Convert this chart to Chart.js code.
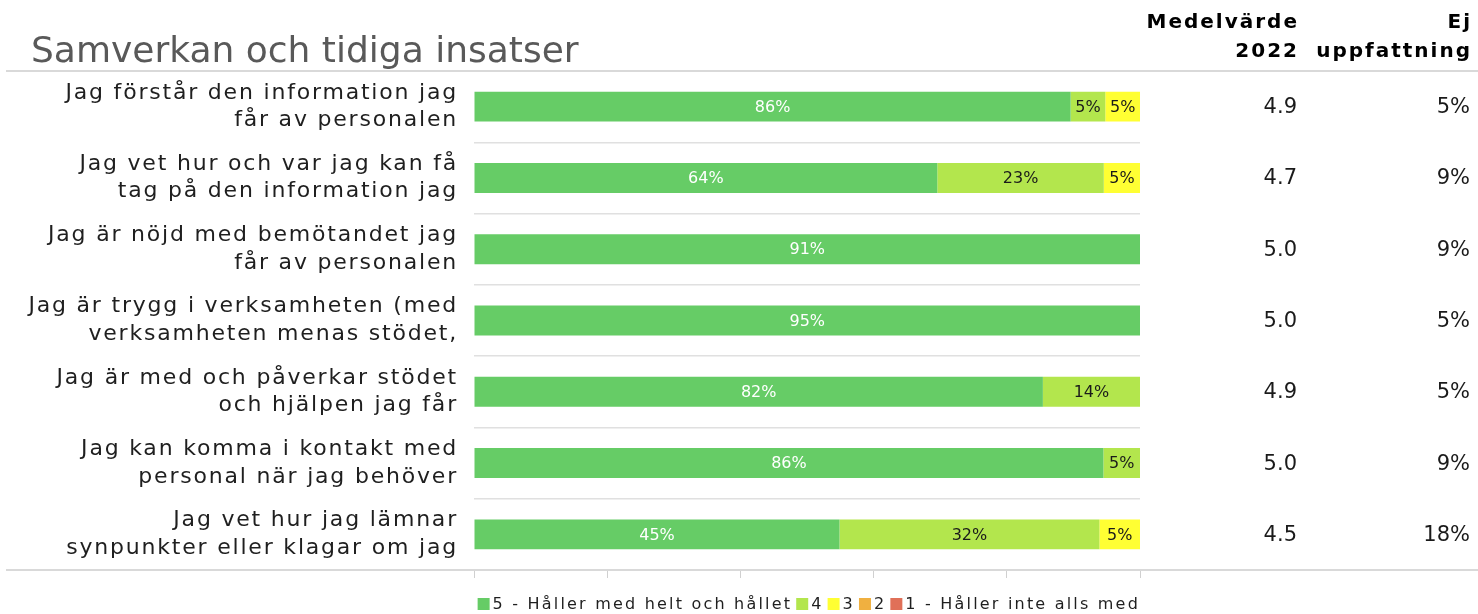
<!DOCTYPE html>
<html>
<head>
<meta charset="utf-8">
<script src="https://cdn.jsdelivr.net/npm/chart.js@4.4.1/dist/chart.umd.min.js"></script>
<style>
  html, body { margin: 0; padding: 0; background: #fff; }
  #wrap { width: 1478px; height: 614px; position: relative; }
</style>
</head>
<body>
<div id="wrap"><canvas id="chart"></canvas></div>
<script>
// Chart data
const title = "Samverkan och tidiga insatser";
const categories = [
  ["Jag förstår den information jag", "får av personalen"],
  ["Jag vet hur och var jag kan få", "tag på den information jag"],
  ["Jag är nöjd med bemötandet jag", "får av personalen"],
  ["Jag är trygg i verksamheten (med", "verksamheten menas stödet,"],
  ["Jag är med och påverkar stödet", "och hjälpen jag får"],
  ["Jag kan komma i kontakt med", "personal när jag behöver"],
  ["Jag vet hur jag lämnar", "synpunkter eller klagar om jag"],
];
const seriesNames = ["5 - Håller med helt och hållet", "4", "3", "2", "1 - Håller inte alls med"];
const s5 = [86, 64, 91, 95, 82, 86, 45];
const s4 = [5, 23, 0, 0, 14, 5, 32];
const s3 = [5, 5, 0, 0, 0, 0, 5];
const s2 = [0, 0, 0, 0, 0, 0, 0];
const s1 = [0, 0, 0, 0, 0, 0, 0];
const medelvarde = ["4.9", "4.7", "5.0", "5.0", "4.9", "5.0", "4.5"];
const ejUppfattning = [5, 9, 9, 5, 5, 9, 18];
const xTicks = [0, 20, 40, 60, 80, 100];

const colors = ["#66cc66", "#b3e64d", "#ffff33", "#f0b040", "#e07058"];
const FONT = "'DejaVu Sans', sans-serif";

// bars are drawn as share of those who answered (Ej uppfattning excluded)
const allSeries = [s5, s4, s3, s2, s1];
const answered = categories.map((_, i) => allSeries.reduce((a, s) => a + s[i], 0));

const datasets = allSeries.map((s, k) => ({
  label: seriesNames[k],
  data: s.map((v, i) => (v / answered[i]) * 100),
  raw: s,
  backgroundColor: colors[k],
  borderWidth: 0,
  barPercentage: 0.42,
  categoryPercentage: 1,
}));

// wider letters for the axis labels (the original font is very wide)
const spacing = {
  id: "spacing",
  beforeDraw(chart) {
    chart.ctx.letterSpacing = "1.8px";
  },
  beforeDatasetsDraw(chart) {
    chart.ctx.letterSpacing = "0px";
  },
};

// Labels inside bars
const barLabels = {
  id: "barLabels",
  afterDatasetsDraw(chart) {
    const ctx = chart.ctx;
    ctx.save();
    ctx.letterSpacing = "0px";
    ctx.font = "16px " + FONT;
    ctx.textAlign = "center";
    ctx.textBaseline = "middle";
    chart.data.datasets.forEach((ds, k) => {
      const meta = chart.getDatasetMeta(k);
      meta.data.forEach((bar, i) => {
        const v = ds.raw[i];
        if (!v) return;
        ctx.fillStyle = k === 0 ? "#ffffff" : "#1a1a1a";
        ctx.fillText(v + "%", (bar.x + bar.base) / 2, bar.y + 1);
      });
    });
    ctx.restore();
  },
};

// Title, side columns, legend and frame lines
const extras = {
  id: "extras",
  afterDraw(chart) {
    const ctx = chart.ctx;
    const y = chart.scales.y;
    const area = chart.chartArea;
    ctx.save();
    ctx.letterSpacing = "0px";

    ctx.fillStyle = "#595959";
    ctx.font = "36px " + FONT;
    ctx.textAlign = "left";
    ctx.textBaseline = "alphabetic";
    ctx.fillText(title, 31, 62);

    ctx.strokeStyle = "#d9d9d9";
    ctx.lineWidth = 2;
    ctx.beginPath();
    ctx.moveTo(6, 71);
    ctx.lineTo(1478, 71);
    ctx.moveTo(6, area.bottom);
    ctx.lineTo(1478, area.bottom);
    ctx.stroke();

    ctx.fillStyle = "#000";
    ctx.font = "bold 20px " + FONT;
    ctx.textAlign = "right";
    ctx.letterSpacing = "2px";
    ctx.fillText("Medelvärde", 1299, 28);
    ctx.fillText("2022", 1299, 57);
    ctx.fillText("Ej", 1472, 28);
    ctx.fillText("uppfattning", 1472, 57);
    ctx.letterSpacing = "0px";

    ctx.fillStyle = "#1a1a1a";
    ctx.font = "21px " + FONT;
    ctx.textBaseline = "middle";
    categories.forEach((c, i) => {
      const py = y.getPixelForValue(i);
      ctx.fillText(medelvarde[i], 1297, py + 1);
      ctx.fillText(ejUppfattning[i] + "%", 1470, py + 1);
    });

    // legend, right aligned with the plot
    ctx.font = "16px " + FONT;
    ctx.letterSpacing = "2.2px";
    ctx.textAlign = "left";
    const box = 12, gap = 3, itemGap = 4;
    const widths = seriesNames.map((n) => ctx.measureText(n).width);
    const total = widths.reduce((a, w) => a + box + gap + w + itemGap, 0) - itemGap;
    let lx = area.right - total;
    const ly = 604;
    seriesNames.forEach((n, k) => {
      ctx.fillStyle = colors[k];
      ctx.fillRect(lx, ly - box / 2, box, box);
      lx += box + gap;
      ctx.fillStyle = "#1f1f1f";
      ctx.fillText(n, lx, ly + 1);
      lx += widths[k] + itemGap;
    });
    ctx.restore();
  },
};

new Chart(document.getElementById("chart"), {
  type: "bar",
  data: { labels: categories, datasets: datasets },
  options: {
    indexAxis: "y",
    responsive: true,
    maintainAspectRatio: false,
    animation: false,
    layout: { padding: { top: 71, right: 338, left: 0, bottom: 0 } },
    scales: {
      x: {
        stacked: true,
        min: 0,
        max: 100,
        afterBuildTicks: (scale) => {
          scale.ticks = xTicks.map((v) => ({ value: v }));
        },
        afterFit: (scale) => {
          scale.height = 44;
        },
        ticks: { display: false },
        grid: {
          drawOnChartArea: false,
          drawTicks: true,
          tickLength: 8,
          color: "#d0d0d0",
        },
        border: { display: false },
      },
      y: {
        stacked: true,
        afterFit: (scale) => {
          scale.width = 474;
        },
        ticks: {
          padding: 16,
          color: "#1f1f1f",
          font: { family: FONT, size: 22, lineHeight: 1.25 },
        },
        grid: { color: "#e0e0e0", drawTicks: false, lineWidth: 1.5 },
        border: { display: false },
      },
    },
    plugins: {
      legend: { display: false },
      tooltip: { enabled: false },
    },
  },
  plugins: [spacing, barLabels, extras],
});
</script>
</body>
</html>
